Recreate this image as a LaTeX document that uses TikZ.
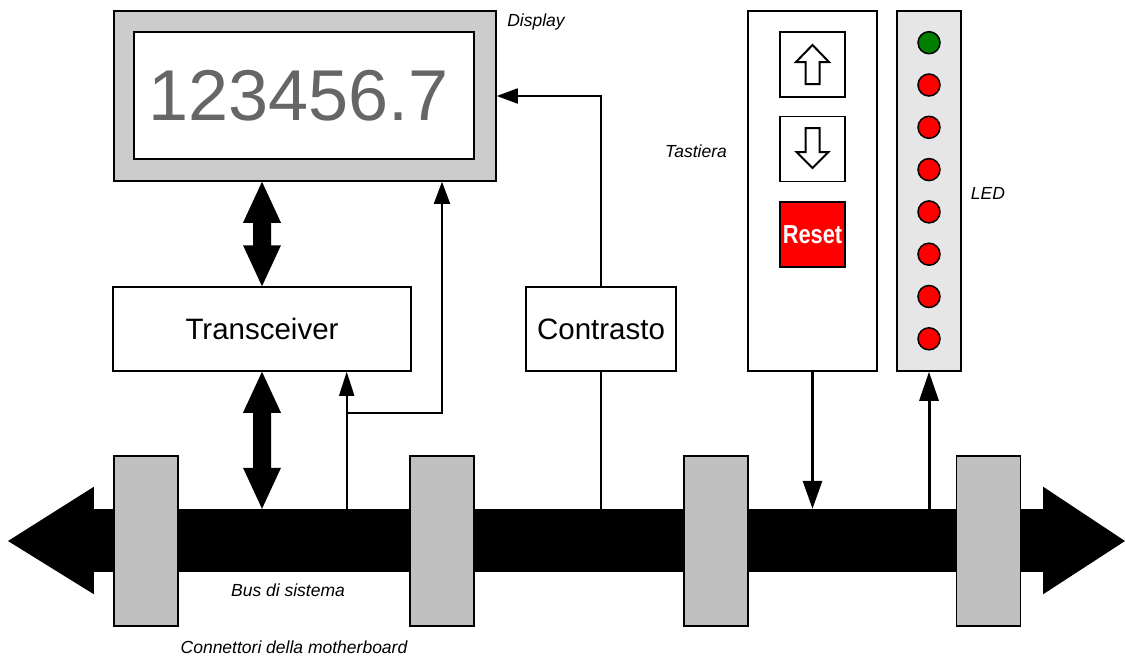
\documentclass[tikz,border=0pt]{standalone}
\usepackage{fontspec}
\setmainfont{Liberation Sans}
\usetikzlibrary{calc,arrows.meta}
\definecolor{frame}{HTML}{CCCCCC}
\definecolor{conn}{HTML}{C0C0C0}
\definecolor{ledbg}{HTML}{E6E6E6}
\definecolor{digit}{HTML}{666666}
\definecolor{ledgreen}{HTML}{007F00}
\definecolor{ledred}{HTML}{FF0000}
\tikzset{
  box/.style={draw=black,line width=1.5pt,fill=white,inner sep=0pt},
  connbox/.style={draw=black,line width=1.5pt,fill=conn,minimum width=64pt,minimum height=170pt,inner sep=0pt},
  btn/.style={draw=black,line width=1.5pt,fill=white,minimum width=65pt,minimum height=65pt,inner sep=0pt},
  ledlamp/.style={circle,draw=black,line width=1.5pt,minimum size=22pt,inner sep=0pt},
  lbl/.style={font=\fontsize{17.5}{20}\selectfont\itshape,inner sep=0pt},
  bigtxt/.style={font=\fontsize{29.5}{34}\selectfont},
  sigline/.style={line width=1.8pt,-{Triangle[length=22pt,width=16pt]}},
  heavyline/.style={line width=3pt,-{Triangle[length=28pt,width=19pt]}},
  hollow/.style={draw=black,line width=2pt,fill=white,line join=miter},
}
\begin{document}
\begin{tikzpicture}[x=1pt,y=-1pt]
\useasboundingbox (0,0) rectangle (1125,656);
% bus
\node[fill=black,minimum width=949pt,minimum height=63pt,inner sep=0pt] (bus) at (568.5,540.5) {};
\fill (bus.north west) -- ++(0,-22) -- (8,541) -- ($(bus.south west)+(0,22)$) -- (bus.south west) -- cycle;
\fill (bus.north east) -- ++(0,-22) -- (1125,541) -- ($(bus.south east)+(0,22)$) -- (bus.south east) -- cycle;
% connectors
\node[connbox] (c1) at (146,541) {};
\node[connbox] (c2) at (442,541) {};
\node[connbox] (c3) at (716,541) {};
\node[connbox] (c4) at (988.5,541) {};
% display
\node[box,fill=frame,minimum width=382pt,minimum height=170pt] (disp) at (305,96) {};
\node[box,minimum width=340pt,minimum height=127pt] (dispin) at (304,95.5) {};
\node[text=digit,font=\fontsize{72}{80}\selectfont,inner sep=0pt] (digits) at (298.5,95.5) {123456.7};
% transceiver and contrasto
\node[box,bigtxt,minimum width=298pt,minimum height=84pt] (trx) at (262,329) {Transceiver};
\node[box,bigtxt,minimum width=150pt,minimum height=84pt] (ctr) at (601,329) {Contrasto};
% keyboard
\node[box,minimum width=129pt,minimum height=360pt] (kbd) at (812.5,191) {};
\node[btn] (up) at (812.5,64.5) {};
\node[btn] (down) at (812.5,149) {};
\node[btn,fill=ledred,text=white,font=\fontsize{26}{28}\selectfont\bfseries] (reset) at (812.5,234.5) {\scalebox{0.84}[1]{Reset}};
\draw[hollow] ($(up)+(0,-19.5)$) -- ++(16.5,17) -- ++(-9.5,0) -- ++(0,22) -- ++(-14,0) -- ++(0,-22) -- ++(-9.5,0) -- cycle;
\draw[hollow] ($(down)+(0,19)$) -- ++(16,-16) -- ++(-9,0) -- ++(0,-24) -- ++(-14,0) -- ++(0,24) -- ++(-9,0) -- cycle;
% LED panel
\node[box,fill=ledbg,minimum width=64pt,minimum height=360pt] (led) at (929,191) {};
\node[ledlamp,fill=ledgreen] (l1) at (929,42.7) {};
\foreach \i/\y in {2/85,3/127.3,4/169.6,5/211.9,6/254.2,7/296.5,8/338.8}
  \node[ledlamp,fill=ledred] (l\i) at (929,\y) {};
% labels
\node[lbl] (ldisp) at (536,22) {Display};
\node[lbl] (ltast) at (696,151) {Tastiera};
\node[lbl] (lled) at (988,193) {LED};
\node[lbl] (lbus) at (288,590) {Bus di sistema};
\node[lbl] (lconn) at (294,647) {Connettori della motherboard};
% thick bidirectional arrows
\coordinate (a1) at (disp.south -| trx.north);
\coordinate (b1) at (trx.north);
\coordinate (a2) at (trx.south);
\coordinate (b2) at (bus.north -| trx.south);
\foreach \A/\B in {a1/b1,a2/b2}{
  \fill (\A) -- ($(\A)+(19,41)$) -- ($(\A)+(9,41)$) -- ($(\B)+(9,-41)$) -- ($(\B)+(19,-41)$) -- (\B)
        -- ($(\B)+(-19,-41)$) -- ($(\B)+(-9,-41)$) -- ($(\A)+(-9,41)$) -- ($(\A)+(-19,41)$) -- cycle;
}
% thin signal lines
\coordinate (tap) at (346.7,413);
\coordinate (dtap) at (442,0);
\draw[sigline,-{Triangle[length=24pt,width=15pt]}] (bus.north -| tap) -- (trx.south -| tap);
\draw[sigline] (tap) -| (disp.south -| dtap);
\draw[line width=1.8pt] (bus.north -| ctr.south) -- (ctr.south);
\draw[sigline,-{Triangle[length=21pt,width=15pt]}] (ctr.north) |- (disp.east);
% keyboard and LED lines
\draw[heavyline] (kbd.south) -- (bus.north -| kbd.south);
\draw[heavyline,-{Triangle[length=29pt,width=19pt]}] (bus.north -| led.south) -- (led.south);
\end{tikzpicture}
\end{document}
